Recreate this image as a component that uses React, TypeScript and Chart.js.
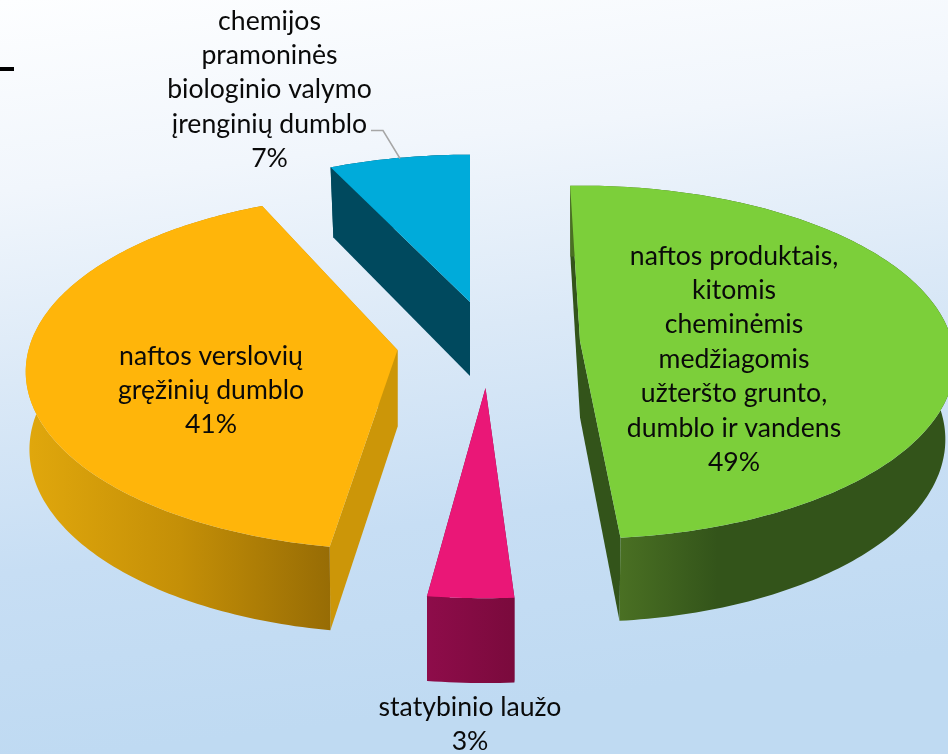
import React, { useEffect, useRef } from "react";
import { Chart, registerables } from "chart.js";

Chart.register(...registerables);

// Data
const categories = [
  ["naftos produktais,", "kitomis", "cheminėmis", "medžiagomis", "užteršto grunto,", "dumblo ir vandens"],
  ["statybinio laužo"],
  ["naftos verslovių", "gręžinių dumblo"],
  ["chemijos", "pramoninės", "biologinio valymo", "įrenginių dumblo"],
];
const shares = [49, 3, 41, 7];
const topColors = ["#7CCF3A", "#EA1777", "#FFB50A", "#00ABDA"];

// Look of each slice: exploded 3D projection
const drawOrder = [3, 2, 0, 1];
const look = [
  { cx: 580, cy: 341, a: 174, b: 372, p: 0.12, depth: 76.5, q: 0.08, xs: 0.975, spinStart: -1.7, spinEnd: -1.9,
    face: "#33541A", wall: [[0, "#4A7023"], [0.3, "#33541A"], [1, "#33541A"]], wallX: [619, 948] },
  { cx: 485.5, cy: 388, a: 185, b: 400, p: 0.12, depth: 78, q: 0.08, xs: 1, spinStart: -0.05, spinEnd: 0.2,
    face: "#7A0A3C", wall: [[0, "#8E0C4A"], [1, "#7A0A3C"]], wallX: [427, 515] },
  { cx: 397.5, cy: 350, a: 175.3, b: 369, p: 0.122, depth: 77, q: 0.08, xs: 0.99, spinStart: 2.1, spinEnd: 1.15,
    face: "#CC9608", wall: [[0, "#E0A70C"], [0.5, "#C48F07"], [1, "#976C05"]], wallX: [30, 331] },
  { cx: 470, cy: 302, a: 165, b: 363, p: 0.12, depth: 74, q: 0.06, xs: 0.98, spinStart: 0, spinEnd: 0,
    face: "#00495E", wall: [[0, "#00495E"], [1, "#00495E"]], wallX: [330, 470] },
];
const labelSpots = [
  { x: 734, y: 256 },
  { x: 470, y: 707 },
  { x: 211, y: 356 },
  { x: 269.5, y: 21 },
];
const lineGap = 34.4;
const textFont = "26.6px Lato";

const threeDPie = {
  id: "threeDPie",
  beforeDraw(chart: any) {
    const { ctx, width, height } = chart;
    const g = ctx.createLinearGradient(0, 0, 90, height);
    g.addColorStop(0, "#FDFEFF");
    g.addColorStop(0.25, "#F1F6FC");
    g.addColorStop(0.5, "#DBE9F7");
    g.addColorStop(0.75, "#C7DEF4");
    g.addColorStop(1, "#BFDAF2");
    ctx.save();
    ctx.fillStyle = g;
    ctx.fillRect(0, 0, width, height);
    ctx.fillStyle = "#000";
    ctx.fillRect(0, 67, 14, 4);
    ctx.restore();
  },
  beforeDatasetsDraw(chart: any) {
    const { ctx } = chart;
    const arcs = chart.getDatasetMeta(0).data;
    for (const i of drawOrder) {
      const s = look[i];
      const t0 = arcs[i].startAngle + Math.PI / 2 + (s.spinStart * Math.PI) / 180;
      const t1 = arcs[i].endAngle + Math.PI / 2 + (s.spinEnd * Math.PI) / 180;
      const project = (r: number, t: number, low: boolean) => {
        const u = r * Math.sin(t);
        const v = r * Math.cos(t);
        const k = 1 + s.p * v;
        const xs = low ? s.xs : 1;
        return [
          s.cx + (xs * s.b * u) / k,
          s.cy - (s.a * v) / k + (low ? s.depth / (1 + s.q * v) : 0),
        ];
      };
      const n = Math.ceil(((t1 - t0) * 180) / Math.PI);
      const rim = (low: boolean) => {
        const pts = [];
        for (let j = 0; j <= n; j++) pts.push(project(1, t0 + ((t1 - t0) * j) / n, low));
        return pts;
      };
      const fill = (pts: number[][], style: any) => {
        ctx.beginPath();
        pts.forEach((q, j) => (j ? ctx.lineTo(q[0], q[1]) : ctx.moveTo(q[0], q[1])));
        ctx.closePath();
        ctx.fillStyle = style;
        ctx.fill();
      };
      const topRim = rim(false);
      const lowRim = rim(true);
      const topC = project(0, 0, false);
      const lowC = project(0, 0, true);
      const wallGrad = ctx.createLinearGradient(s.wallX[0], 0, s.wallX[1], 0);
      s.wall.forEach((st: any) => wallGrad.addColorStop(st[0], st[1]));
      // radial faces
      fill([topC, topRim[0], lowRim[0], lowC], s.face);
      fill([topC, topRim[n], lowRim[n], lowC], s.face);
      // outer wall
      fill([...topRim, ...lowRim.slice().reverse()], wallGrad);
      // top
      fill([topC, ...topRim], arcs[i].options.backgroundColor);
    }
    return false;
  },
  afterDraw(chart: any) {
    const { ctx } = chart;
    ctx.save();
    ctx.strokeStyle = "#A6A6A6";
    ctx.lineWidth = 1.5;
    ctx.beginPath();
    ctx.moveTo(371, 130.5);
    ctx.lineTo(383, 130.5);
    ctx.lineTo(400, 158.5);
    ctx.stroke();
    ctx.fillStyle = "#0A0A0A";
    ctx.font = textFont;
    ctx.textAlign = "center";
    ctx.textBaseline = "middle";
    categories.forEach((lines, i) => {
      const all = [...lines, `${shares[i]}%`];
      all.forEach((t, j) => ctx.fillText(t, labelSpots[i].x, labelSpots[i].y + j * lineGap));
    });
    ctx.restore();
  },
};

export default function App() {
  const ref = useRef<HTMLCanvasElement>(null);
  useEffect(() => {
    const chart = new Chart(ref.current!, {
      type: "pie",
      data: {
        labels: categories.map((c) => c.join(" ")),
        datasets: [{ data: shares, backgroundColor: topColors, borderWidth: 0 }],
      },
      options: {
        animation: false,
        responsive: false,
        plugins: { legend: { display: false }, tooltip: { enabled: false } },
      },
      plugins: [threeDPie],
    } as any);
    return () => chart.destroy();
  }, []);
  return (
    <div style={{ position: "fixed", left: 0, top: 0, width: 948, height: 754, overflow: "hidden" }}>
      <canvas ref={ref} width={948} height={754} style={{ display: "block" }} />
    </div>
  );
}
